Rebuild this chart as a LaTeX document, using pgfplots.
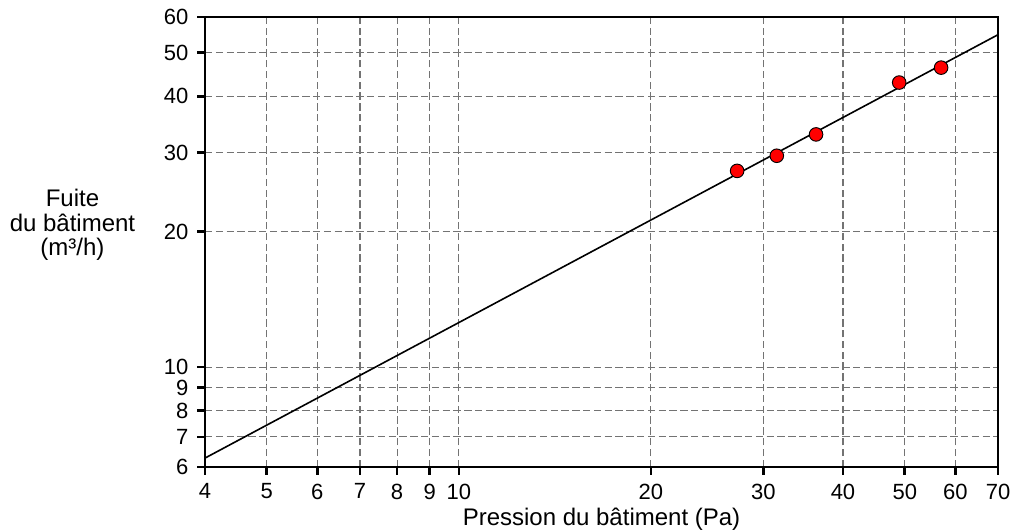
\documentclass[border=0pt]{standalone}
\usepackage{fontspec}
\setmainfont{Liberation Sans}
\usepackage{pgfplots}
\pgfplotsset{compat=1.18}

\begin{document}
\begin{tikzpicture}
\begin{axis}[
  scale only axis,
  width=594.75pt, height=337.5pt,
  xmode=log, ymode=log,
  xmin=4, xmax=70, ymin=6, ymax=60,
  xtick={4,5,6,7,8,9,10,20,30,40,50,60,70},
  xticklabels={4,5,6,7,8,9,10,20,30,40,50,60,70},
  ytick={6,7,8,9,10,20,30,40,50,60},
  yticklabels={6,7,8,9,10,20,30,40,50,60},
  minor tick num=0,
  axis line style={line width=2pt, black},
  xtick pos=bottom, ytick pos=left,
  tick align=outside,
  major tick length=6pt,
  every major tick/.append style={line width=2pt, black},
  xmajorgrids, ymajorgrids,
  grid style={black!55, line width=0.8pt, dash pattern=on 5.5pt off 2.6pt},
  ticklabel style={font=\fontsize{16.5}{19}\selectfont},
  xticklabel style={yshift=-3pt},
  yticklabel style={xshift=-3pt},
  xlabel={Pression du bâtiment (Pa)},
  xlabel style={font=\fontsize{18}{21}\selectfont, at={(rel axis cs:0.5,0)},
    anchor=base, yshift=-44.25pt},
  ylabel={Fuite\\du bâtiment\\(m³/h)},
  ylabel style={font=\fontsize{18}{18.6}\selectfont, rotate=-90, align=center,
    at={(rel axis cs:0,0)}, anchor=center, xshift=-99.4pt, yshift=181.5pt},
]
% droite de régression
\addplot[black, line width=1.2pt] coordinates {(4,6.28) (70,54.8)};
% mesures
\addplot[only marks, mark=*, mark size=5.1pt,
  mark options={fill=red, draw=black, line width=0.7pt}] coordinates {
(27.3,27.3) (31.5,29.5) (36.3,32.9) (49.0,42.9) (57.0,46.3)
};
\end{axis}
\pgfresetboundingbox
\path (-153.75pt,-47.25pt) rectangle (605.25pt,350.25pt);
\end{tikzpicture}
\end{document}
